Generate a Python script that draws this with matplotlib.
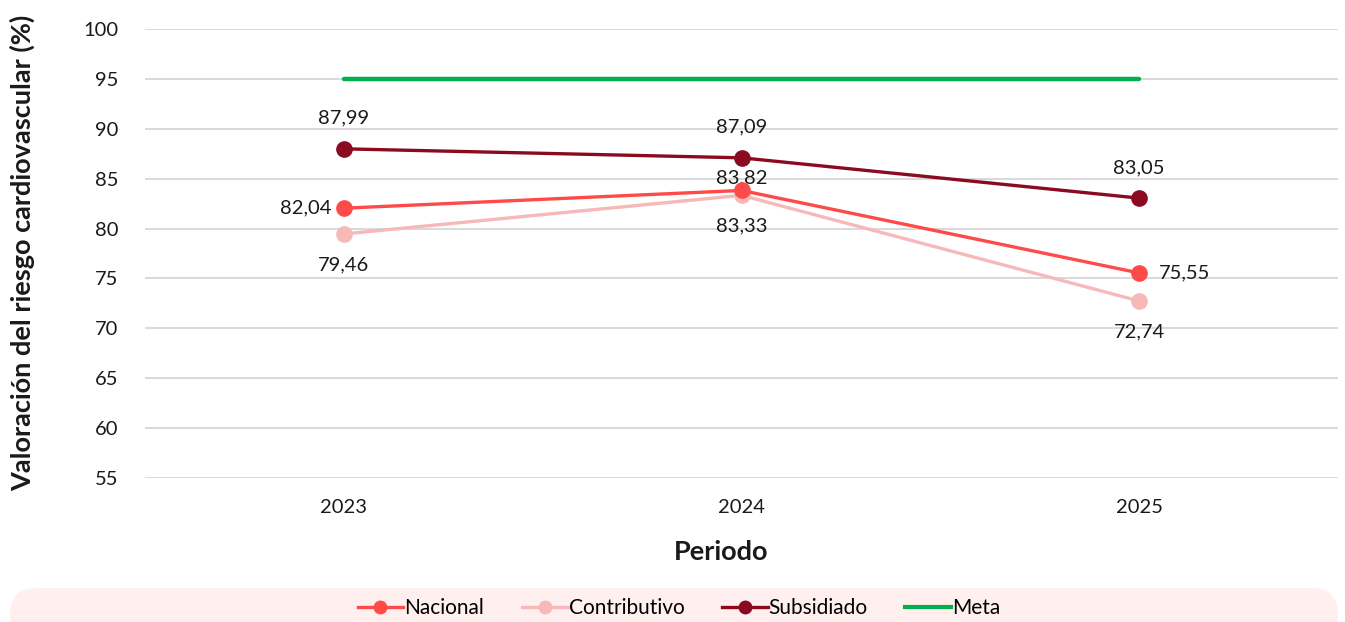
import matplotlib
matplotlib.use("Agg")
import matplotlib.pyplot as plt
from matplotlib.patches import FancyBboxPatch
from matplotlib.lines import Line2D

plt.rcParams['font.family'] = ['Lato', 'DejaVu Sans']

periodos = ["2023", "2024", "2025"]
nacional = [82.04, 83.82, 75.55]
contributivo = [79.46, 83.33, 72.74]
subsidiado = [87.99, 87.09, 83.05]
meta = [95, 95, 95]
y_ticks = [55, 60, 65, 70, 75, 80, 85, 90, 95, 100]

c_nac = "#FF4A4A"
c_con = "#F7B8B8"
c_sub = "#8A0A1F"
c_meta = "#00B050"

W, H = 1345, 622
fig = plt.figure(figsize=(W / 100, H / 100), dpi=100)
ax = fig.add_axes([145 / W, 1 - 478 / H, (1338 - 145) / W, (478 - 29) / H])

x = list(range(len(periodos)))
ax.plot(x, meta, color=c_meta, lw=3.2, solid_capstyle="round", zorder=2)
ax.plot(x, contributivo, color=c_con, lw=2.4, marker="o", ms=11, zorder=3)
ax.plot(x, nacional, color=c_nac, lw=2.4, marker="o", ms=11, zorder=4)
ax.plot(x, subsidiado, color=c_sub, lw=2.4, marker="o", ms=11, zorder=5)

def fmt(v):
    return f"{v:.2f}".replace(".", ",")

lab_kw = dict(fontsize=14.5, color="#1a1a1a", textcoords="offset points")
# Subsidiado: above
for i, v in enumerate(subsidiado):
    ax.annotate(fmt(v), (i, v), xytext=(0, 16), ha="center", va="bottom", **lab_kw)
# Contributivo: below
for i, v in enumerate(contributivo):
    ax.annotate(fmt(v), (i, v), xytext=(0, -16), ha="center", va="top", **lab_kw)
# Nacional: left, above, right
ax.annotate(fmt(nacional[0]), (0, nacional[0]), xytext=(-9, 0), ha="right", va="center", **lab_kw)
ax.annotate(fmt(nacional[1]), (1, nacional[1]), xytext=(0, 3), ha="center", va="bottom", **lab_kw)
ax.annotate(fmt(nacional[2]), (2, nacional[2]), xytext=(14, 0), ha="left", va="center", **lab_kw)

ax.set_xlim(-0.5, 2.5)
ax.set_ylim(55, 100)
ax.set_yticks(y_ticks)
ax.set_xticks(x)
ax.set_xticklabels(periodos)
ax.grid(axis="y", color="#D9D9D9", lw=1.4)
ax.set_axisbelow(True)
for s in ax.spines.values():
    s.set_visible(False)
ax.tick_params(axis="both", length=0, labelsize=14.5, colors="#1a1a1a")
ax.tick_params(axis="y", pad=19)
ax.tick_params(axis="x", pad=15)

fig.text(22 / W, 1 - 253 / H, "Valoración del riesgo cardiovascular (%)", rotation=90,
         ha="center", va="center", fontsize=19.5, fontweight="bold", color="#1a1a1a")
fig.text(721 / W, 1 - 552 / H, "Periodo", ha="center", va="center",
         fontsize=19.5, fontweight="bold", color="#1a1a1a")

# legend background
bg = FancyBboxPatch((10 / W, 588 / H - 588 / H - 20 / H), (1338 - 10) / W, (H - 588 + 20) / H,
                    boxstyle="round,pad=0,rounding_size=0.02", transform=fig.transFigure,
                    facecolor="#FFF0EF", edgecolor="none", zorder=0, mutation_aspect=W / H)
fig.patches.append(bg)

handles = [
    Line2D([], [], color=c_nac, lw=2.4, marker="o", ms=9),
    Line2D([], [], color=c_con, lw=2.4, marker="o", ms=9),
    Line2D([], [], color=c_sub, lw=2.4, marker="o", ms=9),
    Line2D([], [], color=c_meta, lw=3),
]
fig.legend(handles, ["Nacional", "Contributivo", "Subsidiado", "Meta"], loc="center",
           bbox_to_anchor=(679 / W, 1 - 608 / H), ncol=4, frameon=False, fontsize=15,
           handlelength=2.2, handletextpad=0.05, columnspacing=1.8)

fig.savefig("out.png", dpi=100)
